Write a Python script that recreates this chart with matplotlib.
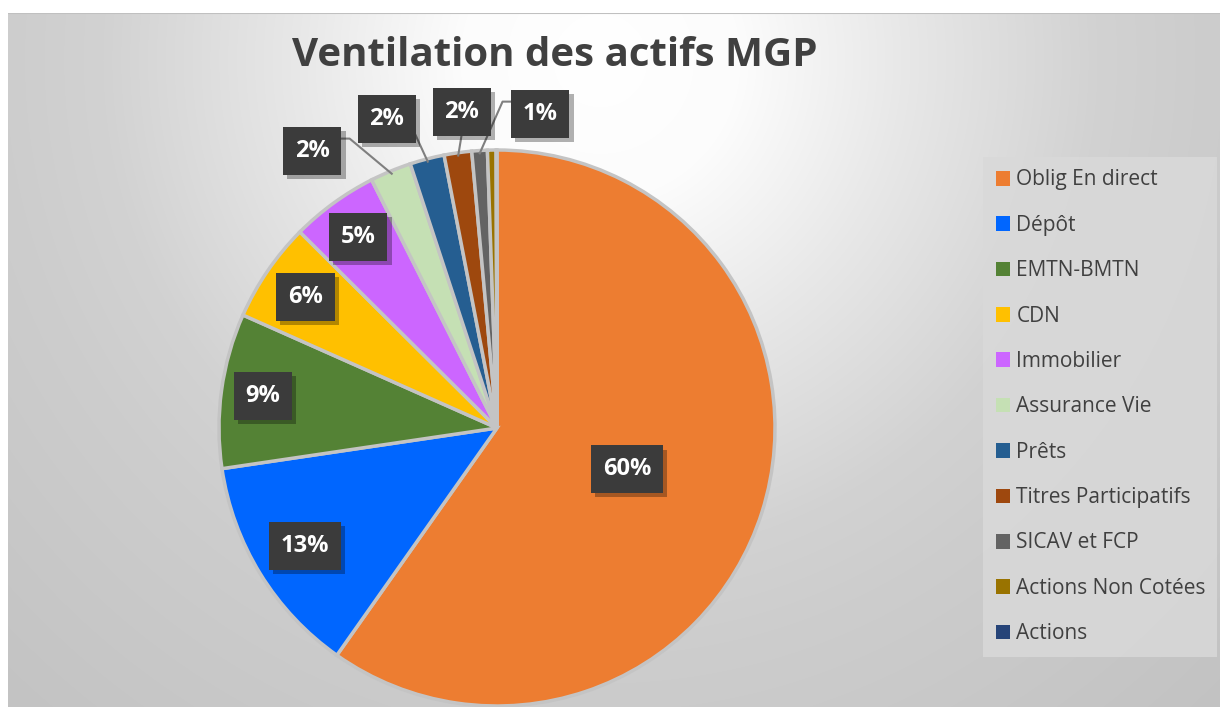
import matplotlib.pyplot as plt
import matplotlib.patheffects as pe
import numpy as np

# data
categories = ["Oblig En direct", "Dépôt", "EMTN-BMTN", "CDN", "Immobilier",
              "Assurance Vie", "Prêts", "Titres Participatifs", "SICAV et FCP",
              "Actions Non Cotées", "Actions"]
shares = [59.8, 12.9, 9.0, 5.8, 5.1, 2.4, 2.0, 1.6, 0.9, 0.5, 0.05]
labels = ["60%", "13%", "9%", "6%", "5%", "2%", "2%", "2%", "1%", "", ""]
colors = ["#ed7d31", "#0066ff", "#548235", "#ffc000", "#cc66ff", "#c5e0b4",
          "#255e91", "#9e480e", "#636363", "#997300", "#264478"]

# label layout: inner labels by radius, outer ones by box centre (data units)
inner_radius = {0: 0.49, 1: 0.81, 2: 0.85, 3: 0.835, 4: 0.85}
outer_boxes = {5: (-0.665, 0.996), 6: (-0.396, 1.112), 7: (-0.126, 1.137), 8: (0.155, 1.129)}

W, H = 1220, 707
fig = plt.figure(figsize=(W / 100, H / 100), dpi=100)

# background radial gradient
bg = fig.add_axes([8 / W, 0, 1 - 8 / W, (H - 13) / H])
yy, xx = np.mgrid[13:H, 8:W]
d = np.hypot((xx - 600) / 700, (yy - 60) / 700)
shade = np.interp(d, [0, 0.2, 0.43, 0.71, 0.85, 1.25, 2], [255, 252, 232, 210, 205, 195, 193]) / 255
bg.imshow(np.dstack([shade] * 3), aspect="auto", extent=[0, 1, 0, 1])
bg.axhline(1, color="#c0c0c0", lw=1.5)
bg.set_axis_off()

ax = fig.add_axes([219 / W, 1 / H, 556 / W, 556 / H])
wedges, _ = ax.pie(shares, colors=colors, startangle=90, counterclock=False, radius=1,
                   wedgeprops=dict(edgecolor="#c4c4c4", linewidth=2.5))
ax.set_xlim(-1, 1)
ax.set_ylim(-1, 1)
ax.set_aspect("equal")
ax.set_axis_off()

box = dict(boxstyle="square,pad=0.5", facecolor="#3b3b3b", edgecolor="none")
shadow = [pe.withSimplePatchShadow(offset=(3, -3), shadow_rgbFace="#000000", alpha=0.3)]


def add_label(x, y, s):
    t = ax.text(x, y, s, ha="center", va="center", color="white", fontsize=17,
                fontweight="bold", family="Open Sans", bbox=box, zorder=5)
    t.get_bbox_patch().set_path_effects(shadow)
    return t


for i, w in enumerate(wedges):
    if not labels[i]:
        continue
    mid = np.deg2rad((w.theta1 + w.theta2) / 2)
    if i in inner_radius:
        r = inner_radius[i]
        add_label(r * np.cos(mid), r * np.sin(mid), labels[i])
    else:
        bx, by = outer_boxes[i]
        add_label(bx, by, labels[i])
        ex, ey = np.cos(mid) * 0.99, np.sin(mid) * 0.99
        hw, hh = 0.09, 0.075
        if i == 5:
            pts = [(bx + hw, by + 0.045), (bx + hw + 0.045, by + 0.045), (ex, ey)]
        elif i == 6:
            pts = [(bx + hw, by - 0.03), (ex, ey)]
        elif i == 7:
            pts = [(bx, by - hh), (ex, ey)]
        else:
            pts = [(bx - hw, by + 0.045), (bx - hw - 0.045, by + 0.045), (ex, ey)]
        px, py = zip(*pts)
        ax.plot(px, py, color="#7f7f7f", lw=1.5, zorder=4, clip_on=False)

fig.text(555 / W, 1 - 56 / H, "Ventilation des actifs MGP", ha="center", va="center",
         fontsize=29, fontweight="bold", color="#404040", family="Open Sans")

leg = fig.legend(wedges, categories, loc="upper left",
                 bbox_to_anchor=(983 / W, 1 - 157 / H, 234 / W, 0.0), mode="expand",
                 frameon=True, fancybox=False, facecolor="#d9d9d9", edgecolor="none",
                 framealpha=0.85, handlelength=0.7, handleheight=0.7, handletextpad=0.3,
                 labelspacing=1.17, borderpad=0.6, borderaxespad=0,
                 prop=dict(family="Open Sans", size=15))
for t in leg.get_texts():
    t.set_color("#404040")
for h in leg.legend_handles:
    h.set_edgecolor("none")

fig.savefig("out.png", dpi=100)
